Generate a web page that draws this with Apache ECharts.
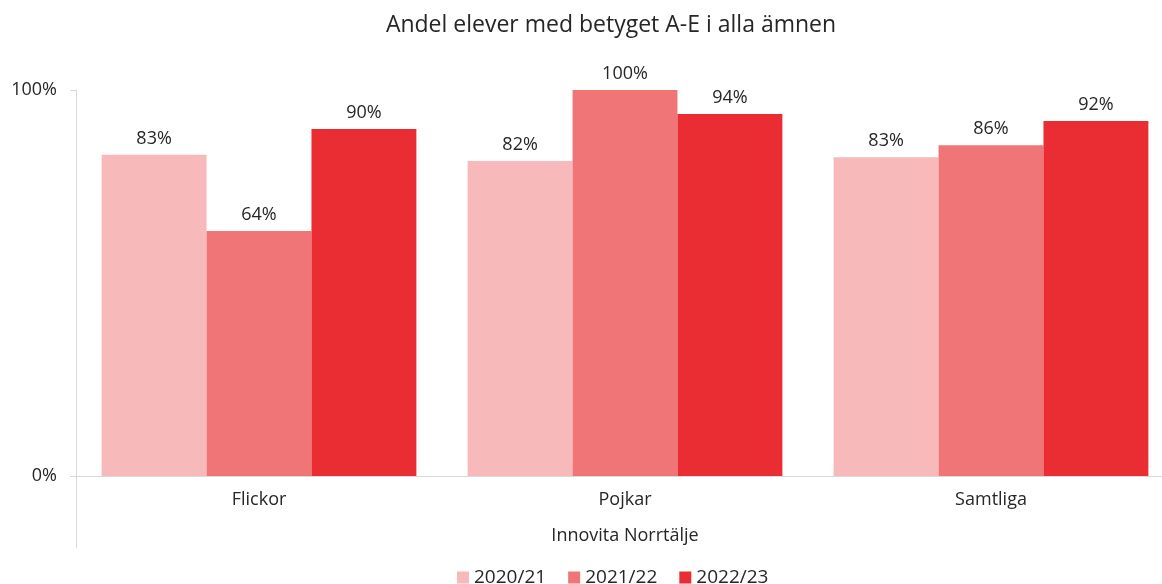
<!DOCTYPE html>
<html><head><meta charset="utf-8">
<script src="https://cdn.jsdelivr.net/npm/echarts@6/dist/echarts.min.js"></script>
<style>html,body{margin:0;padding:0;background:#fff}#c{width:1162px;height:584px}</style>
</head><body><div id="c"></div>
<script>
const categories = ['Flickor', 'Pojkar', 'Samtliga'];
const groupLabel = ['Innovita Norrtälje'];
const seriesNames = ['2020/21', '2021/22', '2022/23'];
const s2021 = [83.2, 81.6, 82.6];
const s2122 = [63.5, 100, 85.7];
const s2223 = [89.9, 93.8, 92.0];
const colors = ['#F7B9BA', '#F07577', '#E92D32'];
const yTicks = [0, 100];

const FONT = 'Open Sans';
const chart = echarts.init(document.getElementById('c'));
const values = [s2021, s2122, s2223];
chart.setOption({
  animation: false,
  textStyle: { fontFamily: FONT },
  title: {
    text: 'Andel elever med betyget A-E i alla ämnen',
    left: 606, top: 9, textAlign: 'center',
    textStyle: { fontFamily: FONT, fontSize: 23, fontWeight: 'normal', color: '#262626' }
  },
  legend: {
    bottom: -8, left: 452, itemWidth: 12, itemHeight: 12, itemGap: 22, itemStyle: {borderWidth: 0},
    icon: 'rect',
    textStyle: { fontFamily: FONT, fontSize: 19, color: '#262626' },
    data: seriesNames
  },
  grid: { left: 76, width: 1098, top: 90, height: 386, containLabel: false, outerBoundsMode: 'none' },
  xAxis: [{
    type: 'category', data: categories, position: 'bottom',
    axisLine: { show: true, lineStyle: { color: '#D9D9D9', width: 1 } },
    axisTick: { show: false },
    axisLabel: { fontFamily: FONT, fontSize: 18, color: '#262626', margin: 15 }
  }, {
    type: 'category', data: groupLabel, position: 'bottom',
    axisLine: { show: false },
    axisTick: { show: true, length: 72, lineStyle: { color: '#D9D9D9' } },
    axisLabel: { fontFamily: FONT, fontSize: 18, color: '#262626', margin: 51 }
  }],
  yAxis: {
    type: 'value', min: 0, max: 100, interval: 100,
    axisLine: { show: true, lineStyle: { color: '#D9D9D9' } },
    axisTick: { show: true, length: 6, lineStyle: { color: '#D9D9D9' } },
    splitLine: { show: false },
    axisLabel: { fontFamily: FONT, fontSize: 18, color: '#262626', margin: 19,
      formatter: v => yTicks.includes(v) ? v + '%' : '' }
  },
  series: seriesNames.map((n, i) => ({
    name: n, type: 'bar', xAxisIndex: 0, data: values[i],
    barGap: '0%', barCategoryGap: '14%',
    itemStyle: { color: colors[i] },
    label: { show: true, position: 'top', distance: 7, fontFamily: FONT, fontSize: 18, color: '#262626',
      formatter: p => Math.round(p.value) + '%' }
  }))
});
</script></body></html>
